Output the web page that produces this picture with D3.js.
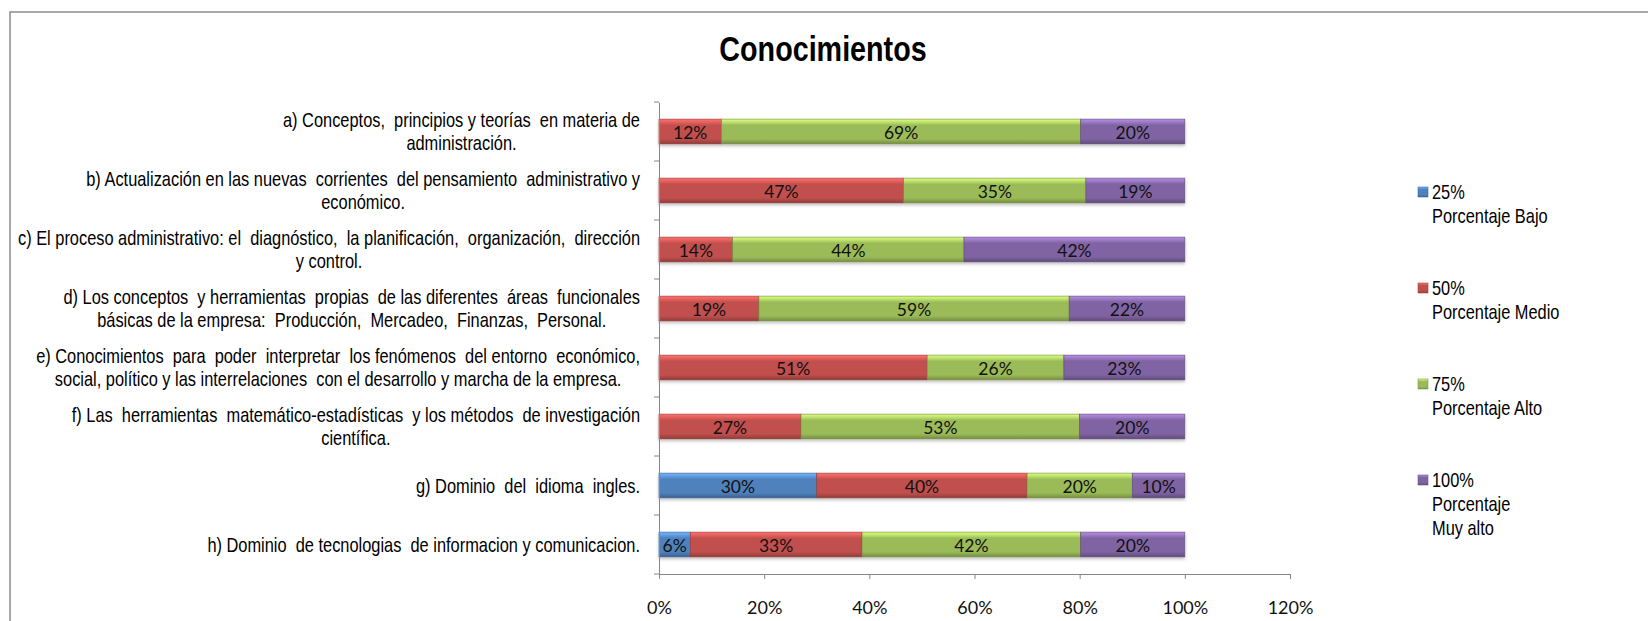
<!DOCTYPE html>
<html>
<head>
<meta charset="utf-8">
<script src="https://cdn.jsdelivr.net/npm/d3@7"></script>
<style>
  body { margin: 0; background: #fff; }
</style>
</head>
<body>
<div id="chart"></div>
<script>
// Conocimientos - 100% stacked bars

const categories = ["a", "b", "c", "d", "e", "f", "g", "h"];
const categoryLabels = [
  ["a) Conceptos,  principios y teorías  en materia de", "administración."],
  ["b) Actualización en las nuevas  corrientes  del pensamiento  administrativo y", "económico."],
  ["c) El proceso administrativo: el  diagnóstico,  la planificación,  organización,  dirección", "y control."],
  ["d) Los conceptos  y herramientas  propias  de las diferentes  áreas  funcionales", "básicas de la empresa:  Producción,  Mercadeo,  Finanzas,  Personal."],
  ["e) Conocimientos  para  poder  interpretar  los fenómenos  del entorno  económico,", "social, político y las interrelaciones  con el desarrollo y marcha de la empresa."],
  ["f) Las  herramientas  matemático-estadísticas  y los métodos  de investigación", "científica."],
  ["g) Dominio  del  idioma  ingles."],
  ["h) Dominio  de tecnologias  de informacion y comunicacion."]
];

const bajo    = [0, 0, 0, 0, 0, 0, 30, 6];
const medio   = [12, 47, 14, 19, 51, 27, 40, 33];
const alto    = [69, 35, 44, 59, 26, 53, 20, 42];
const muyAlto = [20, 19, 42, 22, 23, 20, 10, 20];

const seriesKeys = ["bajo", "medio", "alto", "muyAlto"];
const seriesLegend = [
  ["25%", "Porcentaje Bajo"],
  ["50%", "Porcentaje Medio"],
  ["75%", "Porcentaje Alto"],
  ["100%", "Porcentaje", "Muy alto"]
];
const seriesColors = ["#4f81bd", "#c0504d", "#9bbb59", "#8064a2"];
const xTicks = [0, 0.2, 0.4, 0.6, 0.8, 1.0, 1.2];

const width = 1648, height = 621;
const margin = {left: 659, right: 358, top: 102, bottom: 47};

const rows = categories.map((c, i) => ({
  cat: c, bajo: bajo[i], medio: medio[i], alto: alto[i], muyAlto: muyAlto[i]
}));

const svg = d3.select("#chart").append("svg")
  .attr("width", width)
  .attr("height", height)
  .style("display", "block");

// frame
svg.append("rect")
  .attr("x", 10).attr("y", 12)
  .attr("width", 1700).attr("height", 700)
  .attr("fill", "#fff")
  .attr("stroke", "#8c8c8c")
  .attr("stroke-width", 1.5);

// gradients for the bevelled bars
const defs = svg.append("defs");
seriesColors.forEach((c, i) => {
  const g = defs.append("linearGradient")
    .attr("id", "grad" + i)
    .attr("x1", 0).attr("y1", 0).attr("x2", 0).attr("y2", 1);
  const base = d3.color(c);
  g.append("stop").attr("offset", "0%").attr("stop-color", base.brighter(1.0));
  g.append("stop").attr("offset", "16%").attr("stop-color", base.brighter(0.4));
  g.append("stop").attr("offset", "24%").attr("stop-color", base);
  g.append("stop").attr("offset", "80%").attr("stop-color", base);
  g.append("stop").attr("offset", "100%").attr("stop-color", base.darker(0.8));
});
const shadow = defs.append("filter").attr("id", "shadow")
  .attr("x", "-5%").attr("y", "-20%").attr("width", "110%").attr("height", "160%");
shadow.append("feDropShadow")
  .attr("dx", 0).attr("dy", 2).attr("stdDeviation", 1.5)
  .attr("flood-color", "#000").attr("flood-opacity", 0.25);

const xScale = d3.scaleLinear()
  .domain([0, 1.2])
  .range([margin.left, width - margin.right]);

const yScale = d3.scaleBand()
  .domain(categories)
  .range([margin.top, height - margin.bottom])
  .paddingInner(0.58)
  .paddingOuter(0.29);

const stacked = d3.stack()
  .keys(seriesKeys)
  .offset(d3.stackOffsetExpand)(rows);

// title
svg.append("g")
  .attr("transform", "translate(823,61) scale(0.82,1)")
  .append("text")
  .attr("text-anchor", "middle")
  .attr("font-family", "Liberation Sans, Arial, sans-serif")
  .attr("font-weight", "bold")
  .attr("font-size", 35)
  .attr("fill", "#000")
  .text("Conocimientos");

// bars
const barLayer = svg.append("g").attr("filter", "url(#shadow)");
stacked.forEach((s, si) => {
  barLayer.append("g").selectAll("rect")
    .data(s.filter(d => d[1] - d[0] > 0))
    .join("rect")
    .attr("x", d => xScale(d[0]))
    .attr("y", d => yScale(d.data.cat))
    .attr("width", d => xScale(d[1]) - xScale(d[0]))
    .attr("height", yScale.bandwidth())
    .attr("fill", `url(#grad${si})`)
    .attr("stroke", d3.color(seriesColors[si]).darker(0.8))
    .attr("stroke-width", 0.6);
});
stacked.forEach((s, si) => {
  svg.append("g").selectAll("text")
    .data(s.filter(d => d.data[seriesKeys[si]] > 0))
    .join("text")
    .attr("x", d => (xScale(d[0]) + xScale(d[1])) / 2)
    .attr("y", d => yScale(d.data.cat) + yScale.bandwidth() / 2 + 1)
    .attr("text-anchor", "middle")
    .attr("dominant-baseline", "central")
    .attr("font-family", "Lato, sans-serif")
    .attr("font-size", 17.5)
    .attr("fill", "#111")
    .text(d => d.data[seriesKeys[si]] + "%");
});

// axes
const axisColor = "#868686";
const yAxis = svg.append("g")
  .attr("transform", `translate(${margin.left},0)`)
  .call(d3.axisLeft(yScale).tickValues([]).tickSizeOuter(0));
const step = yScale.step();
yAxis.selectAll(".tk")
  .data(d3.range(categories.length + 1))
  .join("line")
  .attr("x1", -5).attr("x2", 0)
  .attr("y1", i => margin.top + i * step)
  .attr("y2", i => margin.top + i * step);
yAxis.selectAll("path, line").attr("stroke", axisColor);

const xAxis = svg.append("g")
  .attr("transform", `translate(0,${height - margin.bottom})`)
  .call(d3.axisBottom(xScale).tickValues(xTicks).tickSize(5).tickSizeOuter(0)
    .tickFormat(d3.format(".0%")));
xAxis.selectAll("path, line").attr("stroke", axisColor);
xAxis.selectAll("text")
  .attr("dy", null)
  .attr("y", 40)
  .attr("font-family", "Lato, sans-serif")
  .attr("font-size", 18)
  .attr("fill", "#111");

// category labels, block right-aligned, lines centered in the block
const labelRight = 640;
categories.forEach((c, i) => {
  const lines = categoryLabels[i];
  const yc = yScale(c) + yScale.bandwidth() / 2;
  const g = svg.append("g")
    .attr("transform", `translate(${labelRight},${yc}) scale(0.8,1)`);
  const texts = lines.map((ln, li) => g.append("text")
    .attr("y", (li - (lines.length - 1) / 2) * 23)
    .attr("dominant-baseline", "central")
    .attr("text-anchor", "middle")
    .attr("font-family", "Liberation Sans, Arial, sans-serif")
    .attr("font-size", 20.5)
    .attr("fill", "#000")
    .attr("xml:space", "preserve")
    .text(ln));
  const w = d3.max(texts, t => t.node().getComputedTextLength());
  texts.forEach(t => t.attr("x", -w / 2));
});

// legend
const legend = svg.append("g").attr("transform", "translate(1418,192)");
seriesLegend.forEach((lines, i) => {
  const g = legend.append("g").attr("transform", `translate(0,${i * 96})`);
  g.append("rect")
    .attr("x", 0).attr("y", -5)
    .attr("width", 10).attr("height", 10)
    .attr("fill", `url(#grad${i})`)
    .attr("stroke", d3.color(seriesColors[i]).darker(0.5))
    .attr("stroke-width", 0.6);
  const tg = g.append("g").attr("transform", "translate(14,0) scale(0.82,1)");
  lines.forEach((ln, li) => {
    tg.append("text")
      .attr("y", li * 24)
      .attr("dominant-baseline", "central")
      .attr("font-family", "Liberation Sans, Arial, sans-serif")
      .attr("font-size", 20)
      .attr("fill", "#000")
      .text(ln);
  });
});
</script>
</body>
</html>
